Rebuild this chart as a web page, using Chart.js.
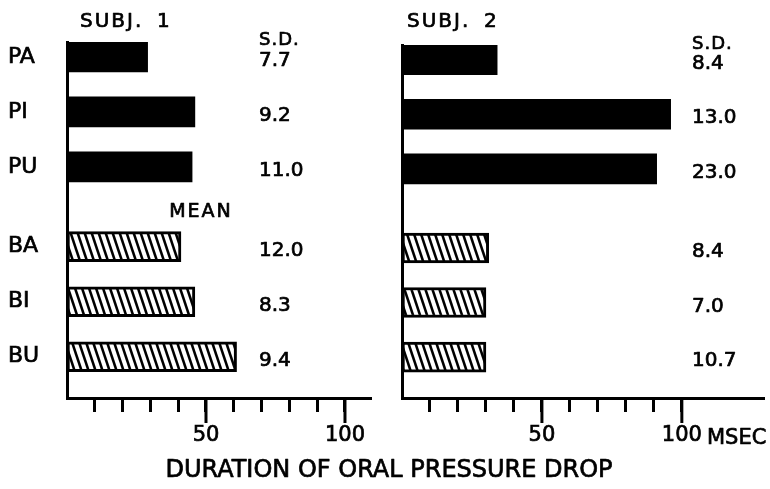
<!DOCTYPE html>
<html>
<head>
<meta charset="utf-8">
<script src="https://cdn.jsdelivr.net/npm/chart.js@4.4.1/dist/chart.umd.min.js"></script>
<style>
  html, body { margin: 0; padding: 0; background: #fff; }
  #wrap { position: relative; width: 770px; height: 489px; }
  #wrap canvas { position: absolute; left: 0; top: 0; }
</style>
</head>
<body>
<div id="wrap">
  <canvas id="left" width="770" height="489"></canvas>
  <canvas id="right" width="770" height="489"></canvas>
</div>
<script>
// rows of both panels, top to bottom
const rowLabels = ['PA', 'PI', 'PU', 'BA', 'BI', 'BU'];
const rowPos = [0, 1, 2, 3.45, 4.45, 5.45];   // gap between the P and B groups

const xTicks = [10, 20, 30, 40, 50, 60, 70, 80, 90, 100];
const majorTicks = [50, 100];

// mean duration of oral pressure drop, msec
const subj1Mean = [29, 46, 45, 41, 46, 61];
const subj2Mean = [34, 96, 91, 31, 30, 30];

// standard deviations printed beside the bars
const subj1SD = ['7.7', '9.2', '11.0', '12.0', '8.3', '9.4'];
const subj2SD = ['8.4', '13.0', '23.0', '8.4', '7.0', '10.7'];

const FONT = '"DejaVu Sans", sans-serif';
const INK = 0.7;   // extra stroke so the lettering looks a bit heavier
Chart.defaults.font.family = FONT;
Chart.defaults.color = '#000';

function makeHatch(ctx) {
  const tile = document.createElement('canvas');
  tile.width = 7;
  tile.height = 21;
  const g = tile.getContext('2d');
  g.fillStyle = '#fff';
  g.fillRect(0, 0, 7, 21);
  g.strokeStyle = '#000';
  g.lineWidth = 2.6;
  [-7, 0, 7].forEach(dx => {
    g.beginPath();
    g.moveTo(dx - 1, -3);
    g.lineTo(dx + 8, 24);
    g.stroke();
  });
  return ctx.createPattern(tile, 'repeat');
}

function text(ctx, s, x, y) {
  ctx.fillText(s, x, y);
  ctx.strokeText(s, x, y);
}

// texts and the long ticks that Chart.js does not draw itself
function panelPlugin(p) {
  return {
    id: 'panel',
    afterDraw(chart) {
      const {ctx, scales: {x, y}} = chart;
      ctx.save();
      ctx.fillStyle = '#000';
      ctx.strokeStyle = '#000';
      ctx.lineWidth = 3;
      majorTicks.forEach(v => {
        const px = x.getPixelForValue(v);
        ctx.beginPath();
        ctx.moveTo(px, x.top);
        ctx.lineTo(px, x.top + 25);
        ctx.stroke();
      });

      ctx.lineWidth = INK;
      ctx.lineJoin = 'round';
      ctx.textBaseline = 'middle';
      ctx.textAlign = 'left';
      ctx.font = '20px ' + FONT;
      ctx.letterSpacing = '2px';
      text(ctx, 'SUBJ.', p.titleX, 22);
      ctx.letterSpacing = '0px';
      text(ctx, p.subj, p.subjX, 22);

      ctx.font = '18px ' + FONT;
      ctx.letterSpacing = '1px';
      text(ctx, 'S.D.', p.sdX, p.sdHeadY);
      ctx.letterSpacing = '0px';
      ctx.font = '20px ' + FONT;
      p.sd.forEach((s, i) => {
        text(ctx, s, p.sdX, y.getPixelForValue(rowPos[i]) + 4);
      });

      if (p.extra) p.extra(ctx);
      ctx.restore();
    }
  };
}

function createChart(id, p) {
  const canvas = document.getElementById(id);
  const hatch = makeHatch(canvas.getContext('2d'));

  return new Chart(canvas, {
    type: 'bar',
    data: {
      datasets: [{
        data: p.mean.map((v, i) => ({x: v, y: rowPos[i]})),
        backgroundColor: rowLabels.map(l => l[0] === 'P' ? '#000' : hatch),
        borderColor: '#000',
        borderWidth: rowLabels.map(l => l[0] === 'P' ? 0 : 3),
        borderSkipped: false,
        barThickness: 30
      }]
    },
    options: {
      indexAxis: 'y',
      responsive: false,
      animation: false,
      layout: {padding: p.padding},
      plugins: {legend: {display: false}, tooltip: {enabled: false}},
      scales: {
        x: {
          type: 'linear',
          min: 0,
          max: p.xMax,
          afterBuildTicks: a => { a.ticks = xTicks.map(v => ({value: v})); },
          afterFit: s => { s.height = 91; },
          grid: {drawOnChartArea: false, tickLength: 14, lineWidth: 3, color: '#000'},
          border: {color: '#000', width: 3},
          ticks: {
            padding: 11,
            maxRotation: 0,
            autoSkip: false,
            font: {size: 21},
            textStrokeColor: '#000',
            textStrokeWidth: INK,
            callback: v => majorTicks.includes(v) ? String(v) : ''
          }
        },
        y: {
          type: 'linear',
          offset: false,
          reverse: true,
          min: -0.27,
          max: 6.2,
          afterBuildTicks: a => { a.ticks = rowPos.map(v => ({value: v})); },
          afterFit: s => { s.width = p.yWidth; },
          grid: {display: false},
          border: {color: '#000', width: 3},
          ticks: {
            display: p.showRows,
            crossAlign: 'far',
            autoSkip: false,
            font: {size: 22},
            textStrokeColor: '#000',
            textStrokeWidth: INK,
            callback: v => rowLabels[rowPos.indexOf(v)]
          }
        }
      }
    },
    plugins: [panelPlugin(p)]
  });
}

createChart('left', {
  mean: subj1Mean,
  sd: subj1SD,
  subj: '1',
  titleX: 80,
  subjX: 157,
  sdX: 259,
  sdHeadY: 40,
  xMax: 109,
  yWidth: 59,
  showRows: true,
  padding: {left: 8, top: 42, right: 400, bottom: 0},
  extra: ctx => {
    ctx.font = '19px ' + FONT;
    ctx.letterSpacing = '2px';
    ctx.textAlign = 'center';
    text(ctx, 'MEAN', 201, 212);
    ctx.letterSpacing = '0px';
    ctx.font = '24px ' + FONT;
    text(ctx, 'DURATION OF ORAL PRESSURE DROP', 389, 471);
  }
});

createChart('right', {
  mean: subj2Mean,
  sd: subj2SD,
  subj: '2',
  titleX: 407,
  subjX: 484,
  sdX: 692,
  sdHeadY: 44,
  xMax: 129,
  yWidth: 0,
  showRows: false,
  padding: {left: 402, top: 45, right: 7, bottom: 0},
  extra: ctx => {
    ctx.font = '21px ' + FONT;
    text(ctx, 'MSEC', 707, 439);
  }
});
</script>
</body>
</html>
